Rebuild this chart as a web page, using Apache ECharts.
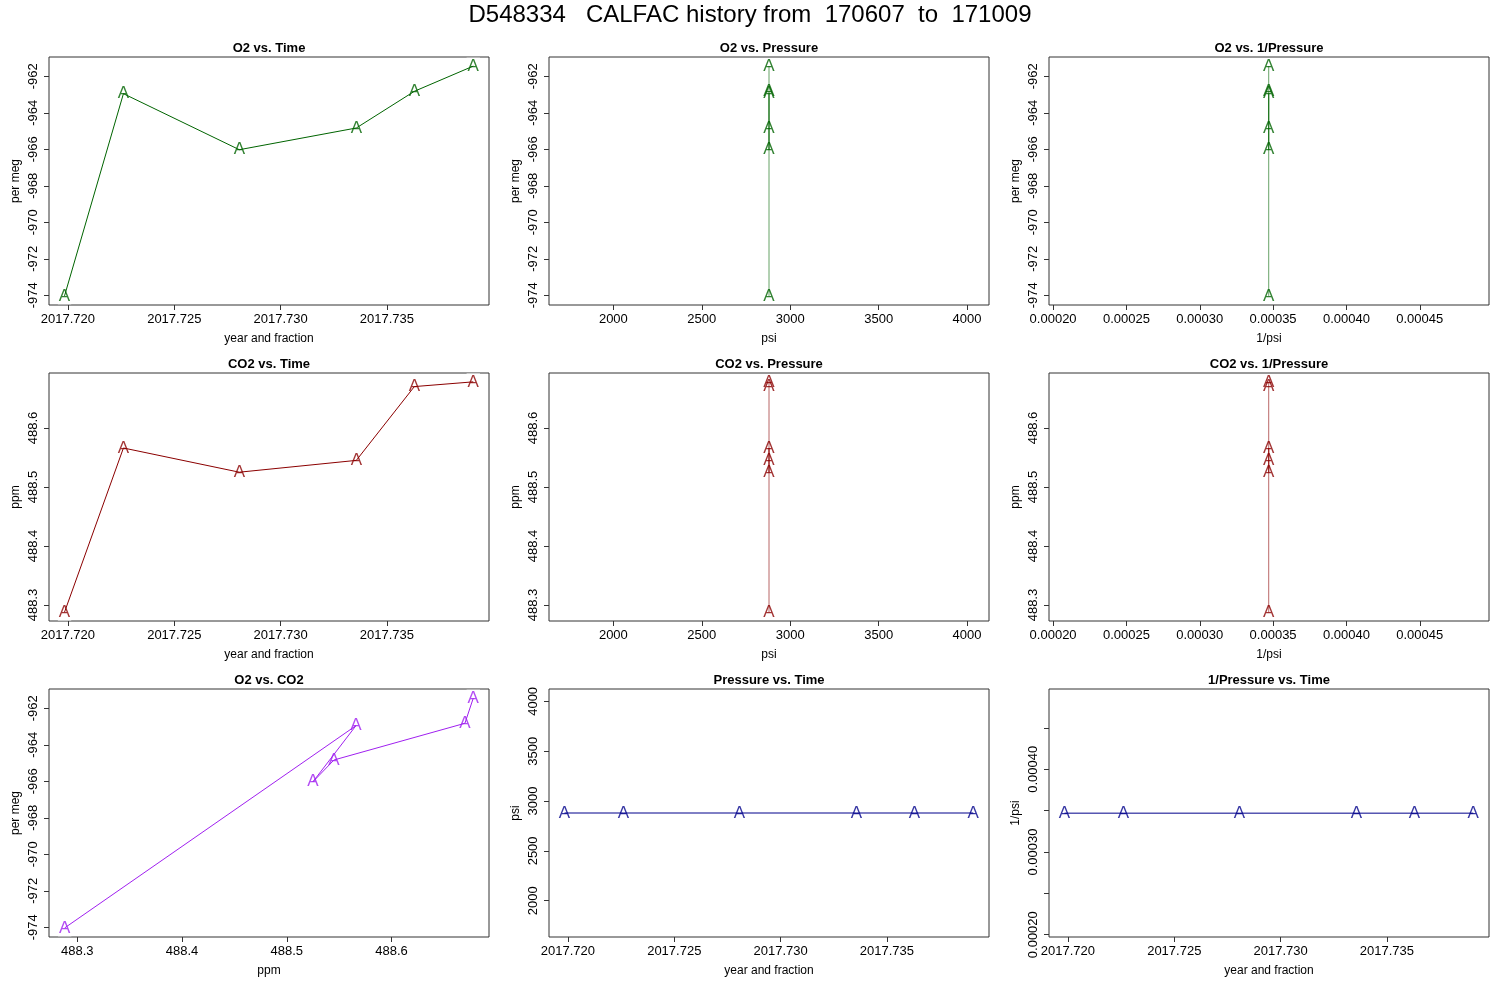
<!DOCTYPE html>
<html>
<head>
<meta charset="utf-8">
<title>D548334 CALFAC history</title>
<script src="https://cdn.jsdelivr.net/npm/echarts@6/dist/echarts.min.js"></script>
<style>
  html, body { margin: 0; padding: 0; background: #fff; }
  #main { width: 1500px; height: 1000px; }
</style>
</head>
<body>
<div id="main"></div>
<script>
// values, in time order
const years = [2017.71984, 2017.72261, 2017.72806, 2017.73356, 2017.73629, 2017.73906];
const o2PerMeg = [-974.03, -962.95, -966.02, -964.83, -962.82, -961.44];
const co2Ppm = [488.288, 488.566, 488.525, 488.545, 488.670, 488.678];
const pressurePsi = [2880, 2880, 2880, 2880, 2880, 2880];
const invPressure = [0.000347, 0.000347, 0.000347, 0.000347, 0.000347, 0.000347];

// tick labels
const yearTicks = [2017.720, 2017.725, 2017.730, 2017.735];
const o2Ticks = [-974, -972, -970, -968, -966, -964, -962];
const co2Ticks = [488.3, 488.4, 488.5, 488.6];
const psiTicks = [2000, 2500, 3000, 3500, 4000];
const invPsiTicks = [0.00020, 0.00025, 0.00030, 0.00035, 0.00040, 0.00045];
const invPsiSparseLabels = [0.00020, 0.00030, 0.00040];

const FONT = 'Liberation Sans';
const GREEN = '#006400', RED = '#8b0000', PURPLE = '#a020f0', BLUE = '#00008b';

const scales = {
  year:   { min: 2017.71911, max: 2017.73980, ticks: yearTicks, digits: 3, name: 'year and fraction' },
  o2:     { min: -974.53, max: -960.94, ticks: o2Ticks, digits: 0, name: 'per meg' },
  co2:    { min: 488.2730, max: 488.6930, ticks: co2Ticks, digits: 1, name: 'ppm' },
  psi:    { min: 1636, max: 4124, ticks: psiTicks, digits: 0, name: 'psi' },
  invPsi: { min: 0.0001972, max: 0.0004972, ticks: invPsiTicks, digits: 5, name: '1/psi' }
};

const panels = [
  { title: 'O2 vs. Time', x: 'year', y: 'o2', xs: years, ys: o2PerMeg, color: GREEN, gap: true },
  { title: 'O2 vs. Pressure', x: 'psi', y: 'o2', xs: pressurePsi, ys: o2PerMeg, color: GREEN },
  { title: 'O2 vs. 1/Pressure', x: 'invPsi', y: 'o2', xs: invPressure, ys: o2PerMeg, color: GREEN },
  { title: 'CO2 vs. Time', x: 'year', y: 'co2', xs: years, ys: co2Ppm, color: RED, gap: true },
  { title: 'CO2 vs. Pressure', x: 'psi', y: 'co2', xs: pressurePsi, ys: co2Ppm, color: RED },
  { title: 'CO2 vs. 1/Pressure', x: 'invPsi', y: 'co2', xs: invPressure, ys: co2Ppm, color: RED },
  { title: 'O2 vs. CO2', x: 'co2', y: 'o2', xs: co2Ppm, ys: o2PerMeg, color: PURPLE, gap: true },
  { title: 'Pressure vs. Time', x: 'year', y: 'psi', xs: years, ys: pressurePsi, color: BLUE, gap: true },
  { title: '1/Pressure vs. Time', x: 'year', y: 'invPsi', xs: years, ys: invPressure, color: BLUE, gap: true,
    yLabels: invPsiSparseLabels }
];

const colLeft = [49, 549, 1049];
const rowTop = [57, 373, 689];
const boxW = 440, boxH = 248;

function axis(key, idx, isY, labelValues) {
  const s = scales[key];
  return {
    type: 'value',
    gridIndex: idx,
    min: s.min,
    max: s.max,
    name: s.name,
    nameLocation: 'middle',
    nameGap: isY ? 27 : 28,
    nameTextStyle: { fontFamily: FONT, fontSize: 12, color: '#000' },
    axisLine: { show: false },
    splitLine: { show: false },
    axisTick: {
      show: true, inside: false, length: 5,
      customValues: s.ticks,
      lineStyle: { color: '#333', width: 1 }
    },
    axisLabel: {
      show: true,
      customValues: labelValues || s.ticks,
      rotate: isY ? 90 : 0,
      margin: isY ? 9 : 8,
      fontFamily: FONT, fontSize: 13, color: '#000',
      formatter: function (v) { return v.toFixed(s.digits); }
    }
  };
}

const grid = [], xAxis = [], yAxis = [], series = [];
const title = [{
  text: 'D548334   CALFAC history from  170607  to  171009',
  left: 750, top: 3, textAlign: 'center', padding: 0,
  textStyle: { fontFamily: FONT, fontSize: 24, fontWeight: 'normal', color: '#000' }
}];

panels.forEach(function (p, i) {
  const left = colLeft[i % 3], top = rowTop[Math.floor(i / 3)];
  grid.push({
    left: left, top: top, width: boxW, height: boxH,
    show: true, borderColor: '#333', borderWidth: 1, backgroundColor: 'transparent',
    containLabel: false, outerBoundsMode: 'none'
  });
  xAxis.push(axis(p.x, i, false));
  yAxis.push(axis(p.y, i, true, p.yLabels));
  title.push({
    text: p.title, left: left + boxW / 2, top: top - 15, textAlign: 'center', padding: 0,
    textStyle: { fontFamily: FONT, fontSize: 13, fontWeight: 'bold', color: '#000' }
  });
  const pts = p.xs.map(function (x, k) { return [x, p.ys[k]]; });
  series.push({
    type: 'line', xAxisIndex: i, yAxisIndex: i, data: pts,
    showSymbol: false, silent: true,
    lineStyle: { color: p.color, width: 1, opacity: p.gap ? 1 : 0.6 }
  });
  series.push({
    type: 'scatter', xAxisIndex: i, yAxisIndex: i, data: pts,
    symbolSize: 2, silent: true,
    itemStyle: { color: 'rgba(0,0,0,0)' },
    label: {
      show: true, position: 'inside', formatter: 'A',
      fontFamily: FONT, fontSize: 17, color: p.color,
      backgroundColor: p.gap ? '#fff' : 'transparent', padding: [0, 1]
    }
  });
});

const chart = echarts.init(document.getElementById('main'));
chart.setOption({
  animation: false,
  backgroundColor: '#fff',
  title: title,
  grid: grid,
  xAxis: xAxis,
  yAxis: yAxis,
  series: series
});
</script>
</body>
</html>
